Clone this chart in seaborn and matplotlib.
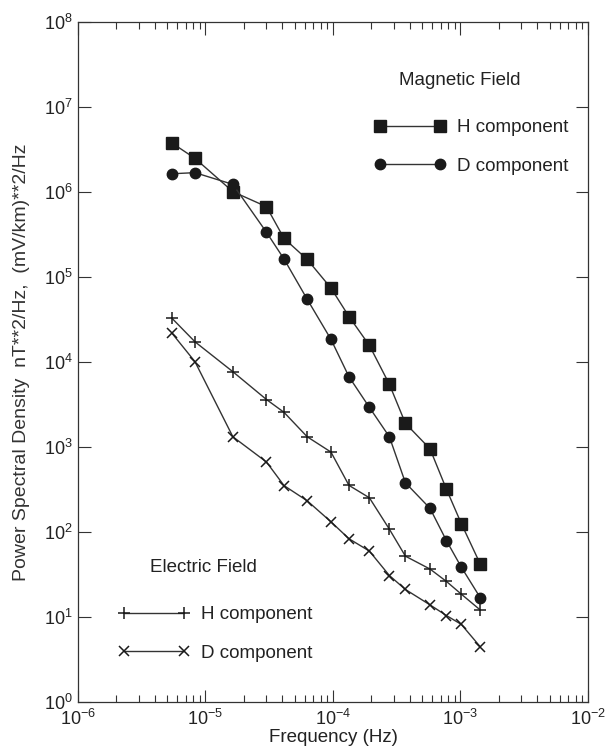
import numpy as np
import pandas as pd
import matplotlib
matplotlib.use("Agg")
import matplotlib.pyplot as plt
from matplotlib.lines import Line2D
from matplotlib.ticker import LogLocator, FuncFormatter, NullFormatter
from matplotlib import font_manager
import seaborn as sns

# frequencies (Hz), shared by all four series
freq = [5.46e-6, 8.27e-6, 1.64e-5, 3.01e-5, 4.13e-5, 6.28e-5, 9.64e-5, 1.335e-4,
        1.93e-4, 2.77e-4, 3.70e-4, 5.77e-4, 7.77e-4, 1.015e-3, 1.43e-3]

# magnetic field PSD, nT**2/Hz
mag_h = [3.77e6, 2.49e6, 1.01e6, 6.72e5, 2.85e5, 1.61e5, 7.42e4, 3.43e4,
         1.57e4, 5.47e3, 1.90e3, 952, 318, 126, 42]
mag_d = [1.64e6, 1.69e6, 1.23e6, 3.36e5, 1.63e5, 5.47e4, 1.85e4, 6.71e3,
         2.93e3, 1.32e3, 380, 190, 79, 38.7, 16.9]

# electric field PSD, (mV/km)**2/Hz
ele_h = [3.27e4, 1.73e4, 7.69e3, 3.62e3, 2.56e3, 1.32e3, 873, 354,
         253, 108, 52, 36.7, 26.2, 18.6, 12.1]
ele_d = [2.18e4, 1.01e4, 1.32e3, 666, 352, 233, 132, 83.4,
         59.7, 30.8, 21.1, 13.9, 10.4, 8.2, 4.47]

sns.set_style("ticks")
plt.rcParams['font.family'] = ['Liberation Sans', 'DejaVu Sans']
plt.rcParams['mathtext.default'] = 'regular'

# narrow face for the long axis label, if the system has one
names = {f.name for f in font_manager.fontManager.ttflist}
narrow = 'Liberation Sans Narrow' if 'Liberation Sans Narrow' in names else 'Liberation Sans'

df = pd.DataFrame({'freq': freq, 'mag_h': mag_h, 'mag_d': mag_d,
                   'ele_h': ele_h, 'ele_d': ele_d})

fig = plt.figure(figsize=(6.08, 7.49), dpi=100)
ax = fig.add_axes([0.1283, 0.0627, 0.8387, 0.9079])

line_c = '#333333'
mark_c = '#1a1a1a'
txt_c = '#222222'
styles = {
    'mag_h': dict(marker='s', markersize=8, mfc=mark_c, mec=mark_c),
    'mag_d': dict(marker='o', markersize=7.5, mfc=mark_c, mec=mark_c),
    'ele_h': dict(marker='+', markersize=8.5, mec=mark_c, mew=1.1),
    'ele_d': dict(marker='x', markersize=7.5, mec=mark_c, mew=1.1),
}
for col, st in styles.items():
    sns.lineplot(data=df, x='freq', y=col, ax=ax, color=line_c, lw=1.0,
                 markeredgewidth=st.get('mew', 1.0), marker=st['marker'],
                 markersize=st['markersize'], markerfacecolor=st.get('mfc', 'none'),
                 markeredgecolor=st['mec'], estimator=None, sort=False)

ax.set_xscale('log')
ax.set_yscale('log')
ax.set_xlim(1e-6, 1e-2)
ax.set_ylim(1e0, 1e8)

fmt = FuncFormatter(lambda v, p: r'$10^{%d}$' % int(round(np.log10(v))))
ax.xaxis.set_major_locator(LogLocator(base=10, numticks=10))
ax.xaxis.set_minor_locator(LogLocator(base=10, subs=np.arange(2, 10), numticks=20))
ax.xaxis.set_major_formatter(fmt)
ax.xaxis.set_minor_formatter(NullFormatter())
ax.yaxis.set_major_locator(LogLocator(base=10, numticks=12))
ax.yaxis.set_minor_locator(LogLocator(base=10, subs=[], numticks=12))
ax.yaxis.set_major_formatter(fmt)

ax.tick_params(which='both', direction='in', top=True, right=True, color='#333333',
               labelcolor=txt_c)
ax.tick_params(which='major', length=9, width=0.8, labelsize=13)
ax.tick_params(which='minor', length=5, width=0.8)
ax.tick_params(axis='x', which='major', pad=5)
ax.tick_params(axis='y', which='major', pad=4)
for s in ax.spines.values():
    s.set_linewidth(0.9)
    s.set_color('#333333')

ax.set_xlabel('Frequency (Hz)', fontsize=13.5, color=txt_c, labelpad=0)
ax.set_ylabel('Power Spectral Density  nT**2/Hz,  (mV/km)**2/Hz',
              fontsize=15.5 if narrow.endswith('Narrow') else 14,
              family=narrow, color='#333333')
ax.yaxis.set_label_coords(-0.095, 0.5)

# legends
def handle(key):
    st = styles[key]
    return Line2D([], [], color=line_c, lw=1.0, marker=st['marker'],
                  markersize=st['markersize'], markerfacecolor=st.get('mfc', 'none'),
                  markeredgecolor=st['mec'], markeredgewidth=st.get('mew', 1.0))

leg_kw = dict(frameon=False, numpoints=2, handlelength=3.8, handletextpad=0.62,
              labelspacing=1.15, borderpad=0, fontsize=13.5, loc='center left',
              labelcolor=txt_c)
leg1 = ax.legend([handle('mag_h'), handle('mag_d')], ['H component', 'D component'],
                 bbox_to_anchor=(0.5627, 0.816), **leg_kw)
ax.add_artist(leg1)
ax.legend([handle('ele_h'), handle('ele_d')], ['H component', 'D component'],
          bbox_to_anchor=(0.0608, 0.10), **leg_kw)
ax.text(0.749, 0.9147, 'Magnetic Field', transform=ax.transAxes, ha='center',
        va='center', fontsize=13.5, color=txt_c)
ax.text(0.245, 0.1985, 'Electric Field', transform=ax.transAxes, ha='center',
        va='center', fontsize=13.5, color=txt_c)

fig.savefig('out.png', dpi=100)
